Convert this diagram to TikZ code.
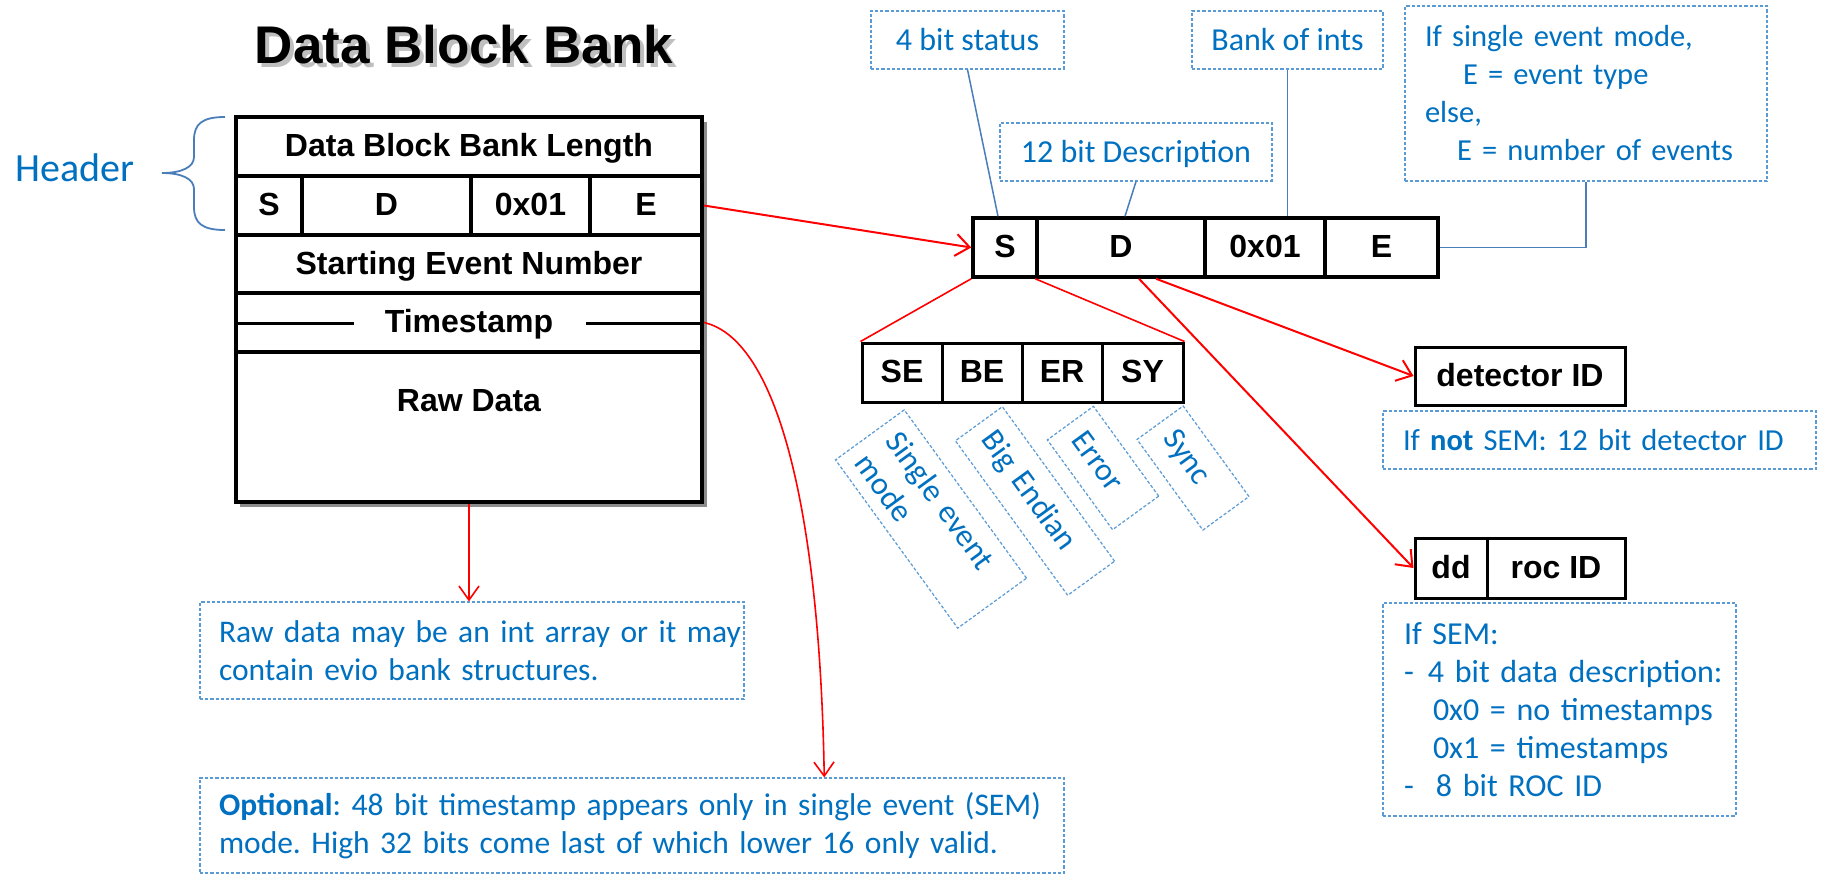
\documentclass[tikz,border=0pt]{standalone}
\usepackage{fontspec}
\setmainfont{Carlito}
\newfontfamily\arialfam{Liberation Sans}
\usetikzlibrary{arrows.meta,calc}
\frenchspacing

\definecolor{txtblue}{HTML}{0070C0}
\definecolor{dashblue}{HTML}{5B9BD5}
\definecolor{linkblue}{HTML}{4A7EBB}
\definecolor{linkred}{HTML}{FF0000}

\newcommand\cellfont{\arialfam\bfseries\fontsize{16}{19}\selectfont}
\newcommand\notefont{\fontsize{16}{19}\selectfont\frenchspacing}
\newcommand\smallnotefont{\fontsize{15.25}{19}\selectfont\frenchspacing}
\newcommand\widenotefont{\fontsize{15.75}{19}\selectfont\frenchspacing}
\newcommand\titlefont{\arialfam\bfseries\fontsize{26.5}{30}\selectfont}

\tikzset{
  cell/.style={draw=black, fill=white, line width=1.75pt, inner sep=0pt,
    font=\cellfont, text height=11.5pt, text depth=1.5pt},
  bigcell/.style={cell, line width=2pt},
  smallcell/.style={cell, line width=1.5pt},
  note/.style={draw=dashblue, line width=0.6pt, dash pattern=on 1.6pt off 1pt,
    text=txtblue, font=\notefont, inner ysep=0pt, inner xsep=0pt,
    text height=10.5pt, text depth=0pt},
  blocknote/.style={note, align=left, text height=, text depth=},
  titletext/.style={font=\titlefont, inner sep=0pt, text height=19pt, text depth=0pt},
  redarrow/.style={draw=linkred, line width=1pt,
    -{Straight Barb[length=7pt,width=11pt,line width=1pt]}},
  thinarrow/.style={draw=linkred, line width=0.8pt,
    -{Straight Barb[length=7pt,width=10pt,line width=0.8pt]}},
  redline/.style={draw=linkred, line width=0.8pt},
  blueline/.style={draw=linkblue, line width=0.75pt},
  tsline/.style={draw=black, line width=1.5pt},
}

\begin{document}
\begin{tikzpicture}[x=0.5pt,y=-0.5pt]
\fill[white] (0,0) rectangle (1822,875);
\useasboundingbox (0,0) rectangle (1822,875);

% ---- title with soft drop shadow
\node[titletext, text=black, opacity=0.25] (titleshade) at (468,48) {Data Block Bank};
\node[titletext] (title) at (464,44) {Data Block Bank};

% ---- header brace
\node[font=\fontsize{20}{24}\selectfont, text=txtblue, inner sep=0pt,
      text height=12.9pt, text depth=0pt] (hdr) at (75,169) {Header};
\draw[draw=linkblue, line width=0.9pt]
  (225,117) .. controls (202,117) and (194,124) .. (194,140) -- (194,157)
  .. controls (194,167) and (182,173) .. (162,173)
  .. controls (182,173) and (194,179) .. (194,189) -- (194,207)
  .. controls (194,223) and (202,230) .. (225,230);

% ---- data block bank (left structure)
\fill[black!45] (240,122) rectangle (707,507);
\node[bigcell, minimum width=233pt, minimum height=29.5pt] (len)   at (469,146.5) {Data Block Bank Length};
\node[bigcell, minimum width=33pt,  minimum height=29.5pt] (mS)    at (269,205.5) {S};
\node[bigcell, minimum width=84.5pt,minimum height=29.5pt] (mD)    at (386.5,205.5) {D};
\node[bigcell, minimum width=59.5pt,minimum height=29.5pt] (mX)    at (530.5,205.5) {0x01};
\node[bigcell, minimum width=56pt,  minimum height=29.5pt] (mE)    at (646,205.5) {E};
\node[bigcell, minimum width=233pt, minimum height=29pt]   (start) at (469,264) {Starting Event Number};
\node[bigcell, minimum width=233pt, minimum height=29.5pt] (ts)    at (469,322.5) {Timestamp};
\node[bigcell, minimum width=233pt, minimum height=75pt]   (raw)   at (469,427) {};
\node[font=\cellfont, inner sep=0pt, text height=11.5pt, text depth=0pt] (rawtxt) at (469,400) {Raw Data};
\draw[tsline] ($(ts.west)+(4,0.5)$) -- ($(ts.west)+(120,0.5)$);
\draw[tsline] ($(ts.east)+(-118,0.5)$) -- ($(ts.east)+(-2,0.5)$);

% ---- expanded second word
\node[cell, minimum width=32pt,   minimum height=29.5pt] (sS) at (1005,247.5)   {S};
\node[cell, minimum width=84pt,   minimum height=29.5pt] (sD) at (1121,247.5)   {D};
\node[cell, minimum width=60pt,   minimum height=29.5pt] (sX) at (1265,247.5)   {0x01};
\node[cell, minimum width=56.5pt, minimum height=29.5pt] (sE) at (1381.5,247.5) {E};

% ---- status bits
\node[smallcell, minimum width=40pt,   minimum height=29.5pt] (bSE) at (902,372.5)    {SE};
\node[smallcell, minimum width=40pt,   minimum height=29.5pt] (bBE) at (982,372.5)    {BE};
\node[smallcell, minimum width=40pt,   minimum height=29.5pt] (bER) at (1062,372.5)   {ER};
\node[smallcell, minimum width=40.5pt, minimum height=29.5pt] (bSY) at (1142.5,372.5) {SY};

% ---- descriptor words
\node[smallcell, minimum width=105pt, minimum height=29pt] (det) at (1520,376) {detector ID};
\node[smallcell, minimum width=36pt,  minimum height=30pt] (dd)  at (1451,568) {dd};
\node[smallcell, minimum width=69pt,  minimum height=30pt] (roc) at (1556,568) {roc ID};

% ---- explanatory notes
\node[note, minimum width=96.5pt, minimum height=29pt] (status) at (967.5,40) {4 bit status};
\node[note, minimum width=95.5pt, minimum height=29pt] (ints)   at (1287.5,40) {Bank of ints};
\node[note, minimum width=136pt,  minimum height=29pt] (desc)   at (1136,152) {12 bit Description};
\node[blocknote, font=\smallnotefont, text width=161pt, inner xsep=10pt, minimum height=87.5pt] (evt) at (1586,93.5)
  {\mbox{If single event mode,}\\\mbox{\hspace*{19pt}E = event type}\\\mbox{else,}\\\mbox{\hspace*{16pt}E = number of events}};
\node[blocknote, font=\smallnotefont, text width=196.5pt, inner xsep=10pt, minimum height=29pt] (notsem) at (1599.5,440)
  {\mbox{If \textbf{not} SEM: 12 bit detector ID}};
\node[blocknote, text width=155.5pt, inner xsep=10.5pt, minimum height=106.5pt] (ifsem) at (1559.5,709.5)
  {\mbox{If SEM:}\\
   \mbox{\makebox[12pt][l]{-}4 bit data description:}\\
   \mbox{\hspace*{14.5pt}0x0 = no timestamps}\\
   \mbox{\hspace*{14.5pt}0x1 = timestamps}\\
   \mbox{\makebox[16pt][l]{-}8 bit ROC ID}};
\node[blocknote, font=\widenotefont, text width=253pt, inner xsep=9.5pt, minimum height=48.5pt] (rawnote) at (472,650.5)
  {\mbox{Raw data may be an int array or it may}\\\mbox{contain evio bank structures.}};
\node[blocknote, font=\widenotefont, text width=413pt, inner xsep=9.5pt, minimum height=47.5pt] (opt) at (632,825.5)
  {\mbox{\textbf{Optional}: 48 bit timestamp appears only in single event (SEM)}\\
   \mbox{mode. High 32 bits come last of which lower 16 only valid.}};

% ---- rotated bit labels
\node[blocknote, rotate=-54, text width=90pt,  inner xsep=7pt, minimum height=42.5pt] (nSE) at (931,519)  {Single event\\mode};
\node[blocknote, rotate=-54, text width=81.5pt,inner xsep=7pt, minimum height=29pt]   (nBE) at (1035,501) {Big Endian};
\node[blocknote, rotate=-54, text width=41.5pt,inner xsep=7pt, minimum height=28.5pt] (nER) at (1103,468) {Error};
\node[blocknote, rotate=-54, text width=42pt,  inner xsep=7pt, minimum height=28.5pt] (nSY) at (1193,468) {Sync};

% ---- blue leader lines
\draw[blueline] (status.south) -- ([xshift=-3.5pt]sS.north);
\draw[blueline] (desc.south) -- ([xshift=2pt]sD.north);
\draw[blueline] (ints.south) -- (ints.south |- sX.north);
\draw[blueline] (sE.east) -| (evt.south);

% ---- red connectors
\draw[redarrow] (mE.east) -- (sS.west);
\draw[redline] (sS.south west) -- (bSE.north west);
\draw[redline] (sD.south west) -- (bSY.north east);
\draw[redarrow] ([xshift=17.5pt]sD.south) -- (det.west);
\draw[redarrow] ([xshift=9pt]sD.south) -- (dd.west);
\draw[thinarrow] (raw.south) -- (raw.south |- rawnote.north);
\draw[thinarrow] (ts.east) .. controls (780,340) and (820,520) .. ($(opt.north west)!0.7222!(opt.north east)$);
\end{tikzpicture}
\end{document}
